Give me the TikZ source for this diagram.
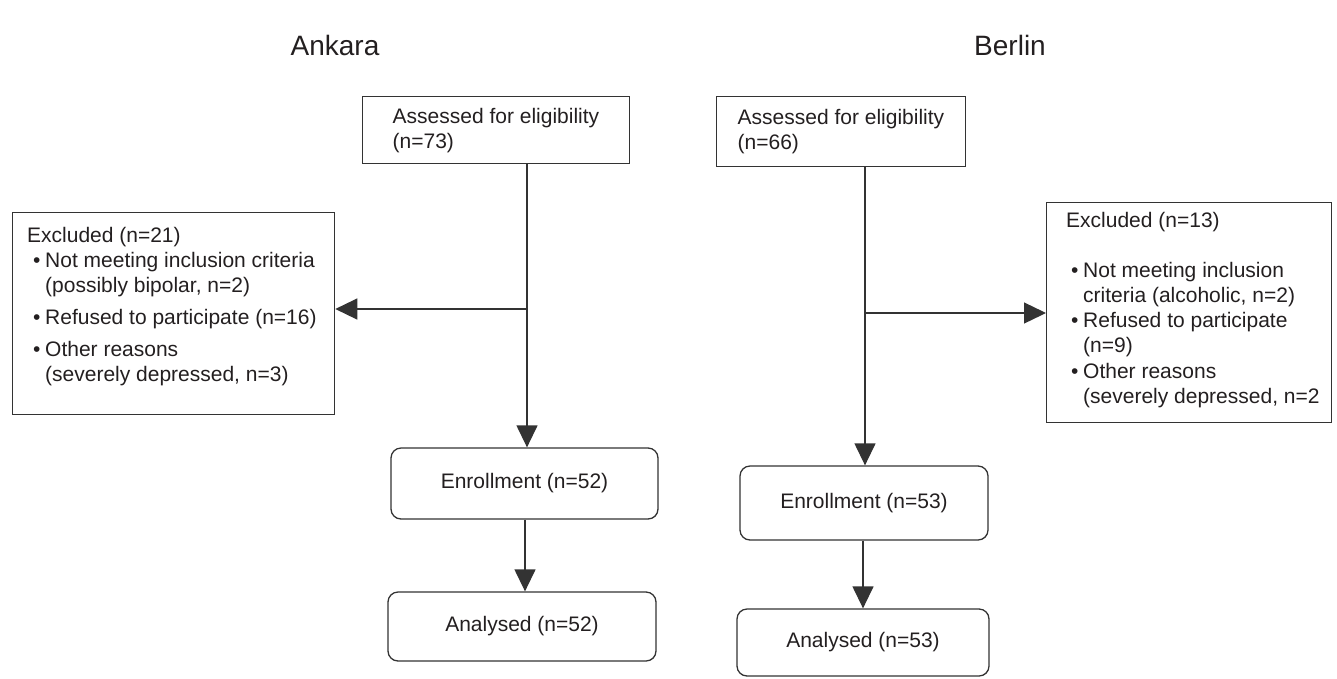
\documentclass[tikz,border=0pt]{standalone}
\usepackage{fontspec}
\setmainfont{Liberation Sans}
\usetikzlibrary{arrows.meta,calc}
\definecolor{txt}{HTML}{231F20}
\definecolor{linec}{HTML}{333333}
\newcommand\bul{\makebox[12pt][l]{\textbullet}}
\newcommand\boxfont{\fontsize{21}{25}\selectfont}
\tikzset{
  box/.style={draw=linec, line width=1.3pt, rectangle, font=\boxfont, text=txt, align=left, inner ysep=0pt},
  rbox/.style={draw=linec, line width=1.3pt, rectangle, rounded corners=10pt, font=\boxfont, text=txt, align=center, inner sep=0pt},
  ebox/.style={draw=linec, line width=1.3pt, rectangle, inner sep=0pt, anchor=north west},
  etext/.style={font=\boxfont, text=txt, align=left, inner sep=0pt, anchor=north west},
  title/.style={font=\fontsize{28}{32}\selectfont, text=txt},
  arr/.style={draw=linec, line width=1.3pt, -{Triangle[length=22pt,width=21pt]}},
}
\begin{document}
\begin{tikzpicture}[x=1pt,y=-1pt]
\useasboundingbox (0,0) rectangle (1337,678);
% titles
\node[title] (tA) at (335,45) {Ankara};
\node[title] (tB) at (1010,45) {Berlin};
% Ankara
\node[box, anchor=north west, inner xsep=30pt, minimum height=67pt] (a1) at (362,96) {Assessed for eligibility\\(n=73)};
\node[ebox, minimum width=322pt, minimum height=202pt] (exA) at (12,212) {};
\node[etext] (exAt) at (27,227.5) {Excluded (n=21)\\
\hspace*{6pt}\bul Not meeting inclusion criteria\\
\hspace*{18pt}(possibly bipolar, n=2)\\[7pt]
\hspace*{6pt}\bul Refused to participate (n=16)\\[7pt]
\hspace*{6pt}\bul Other reasons\\
\hspace*{18pt}(severely depressed, n=3)};
\node[rbox, minimum width=267pt, minimum height=71pt] (enA) at (524.5,483.5) {Enrollment (n=52)};
\node[rbox, minimum width=268pt, minimum height=69pt] (anA) at (522,626.5) {Analysed (n=52)};
\coordinate (aj) at (527,309);
% Berlin
\node[box, anchor=north west, inner xsep=21pt, minimum height=70pt] (b1) at (716,96) {Assessed for eligibility\\(n=66)};
\node[ebox, minimum width=285pt, minimum height=220pt] (exB) at (1046,202) {};
\node[etext] (exBt) at (1066,212.5) {Excluded (n=13)\\[25pt]
\hspace*{5pt}\bul Not meeting inclusion\\
\hspace*{17pt}criteria (alcoholic, n=2)\\
\hspace*{5pt}\bul Refused to participate\\
\hspace*{17pt}(n=9)\\[1pt]
\hspace*{5pt}\bul Other reasons\\
\hspace*{17pt}(severely depressed, n=2};
\node[rbox, minimum width=248pt, minimum height=74pt] (enB) at (864,503) {Enrollment (n=53)};
\node[rbox, minimum width=252pt, minimum height=67pt] (anB) at (863,642.5) {Analysed (n=53)};
\coordinate (bj) at (865,313);
% connectors
\draw[arr] (a1.south -| aj) -- (aj |- enA.north);
\draw[arr] (aj) -- (aj -| exA.east);
\draw[arr] (enA.south -| 525,0) -- (525,0 |- anA.north);
\draw[arr] (b1.south -| bj) -- (bj |- enB.north);
\draw[arr] (bj) -- (bj -| exB.west);
\draw[arr] (enB.south -| 863,0) -- (863,0 |- anB.north);
\end{tikzpicture}
\end{document}
